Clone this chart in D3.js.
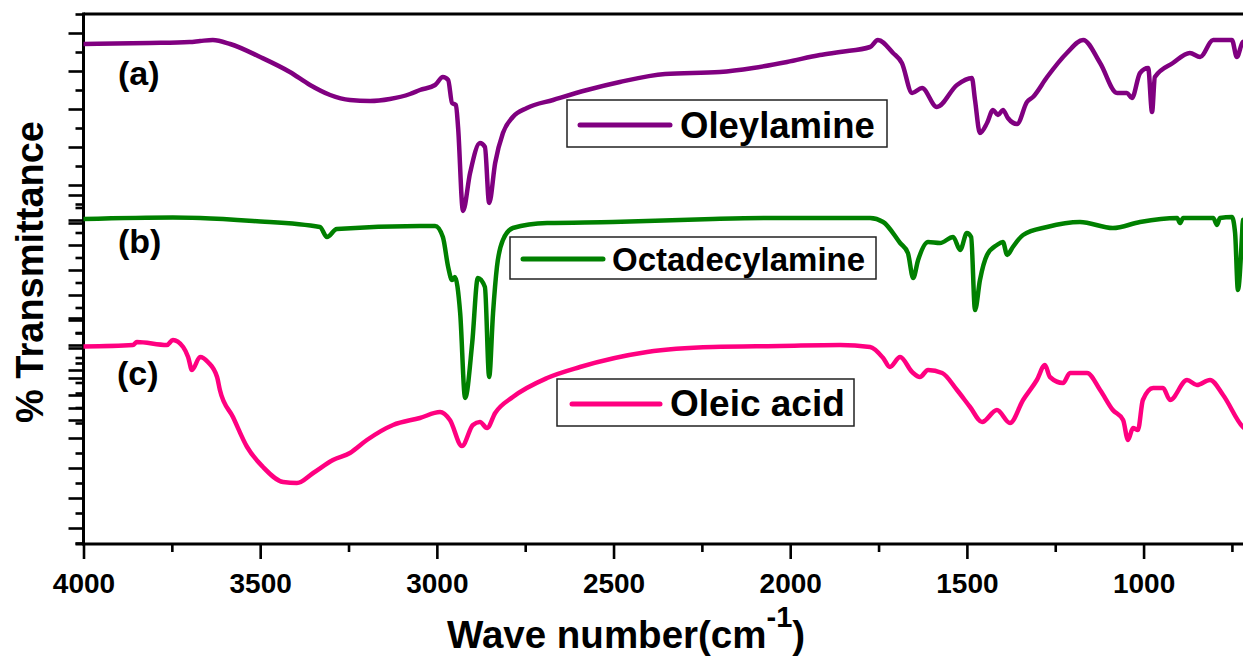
<!DOCTYPE html>
<html>
<head>
<meta charset="utf-8">
<script src="https://cdn.jsdelivr.net/npm/d3@7"></script>
<style>
  html, body { margin: 0; padding: 0; background: #fff; }
  svg { display: block; }
  text { font-family: "Liberation Sans", Arial, sans-serif; font-weight: bold; fill: #000; }
</style>
</head>
<body>
<svg id="chart" width="1243" height="657"></svg>
<script>
// FTIR spectra, [wavenumber (cm-1), offset % transmittance]
const oleylamine = [
  [4000,100],[3812,100.2],[3700,100.4],[3670,100.6],[3634,100.8],[3585,100],[3500,97.4],
  [3416,94.4],[3359,91.8],[3302,89.8],[3246,88.8],[3189,88.6],[3133,89],[3076,90],
  [3048,90.8],[3005,91.8],[2983,93.4],[2968,92.8],[2957,88.2],[2946,87.8],[2940,83.4],
  [2926,66.6],[2906,74.2],[2878,80.2],[2864,79.4],[2852,68.2],[2835,76.2],[2813,82.2],
  [2785,85.4],[2745,87.2],[2671,88.8],[2575,90.8],[2482,92.4],[2354,94],[2199,94.4],
  [2105,95.2],[2009,96.4],[1916,97.8],[1859,98.4],[1774,99.4],[1752,100.8],[1709,98.2],
  [1684,96.2],[1655,90.2],[1627,91.2],[1585,87.4],[1528,91.8],[1486,93.2],[1477,88.8],
  [1463,82.2],[1443,84.2],[1426,86.8],[1412,85.8],[1398,86.8],[1384,85.2],[1358,84],
  [1330,88.4],[1313,89.4],[1273,93.4],[1217,98.2],[1171,100.8],[1123,96.2],[1075,90.2],
  [1047,90.2],[1033,89.2],[1010,94.2],[987,95.2],[976,86.4],[968,93.4],[917,96.2],
  [869,98.2],[840,97.4],[803,100.8],[750,100.8],[736,97.4],[719,100.4],[700,100.8]
];
const octadecylamine = [
  [4000,65],[3747,65.3],[3670,65.2],[3520,64.6],[3331,63.4],[3311,61.4],[3283,63],
  [3048,63.6],[3005,63.6],[2983,61.4],[2968,55.4],[2957,52.8],[2949,53.4],[2934,46.2],
  [2920,29.2],[2900,40.2],[2884,53.2],[2864,51.4],[2852,33.4],[2841,46.2],[2830,55.4],
  [2813,60.8],[2785,63.2],[2688,64.2],[2502,64.4],[2219,65],[2029,65.2],[1859,65.2],
  [1774,65.2],[1737,64.4],[1689,60.2],[1667,58.2],[1652,53.2],[1638,56.8],[1610,60.4],
  [1576,60.2],[1539,61.4],[1519,58.8],[1500,62.2],[1488,61.4],[1477,46.8],[1463,52.8],
  [1443,57.8],[1415,59.8],[1398,60.4],[1386,57.8],[1370,59.4],[1341,61.8],[1273,63.4],
  [1180,64.4],[1087,63.2],[1010,64.4],[905,65.2],[897,64.2],[888,65.2],[803,65.2],
  [792,63.8],[784,65.2],[750,65.4],[741,62.2],[733,50.8],[721,62.2],[719,64.8],[700,65.2]
];
const oleicAcid = [
  [4000,39.5],[3860,39.8],[3849,40.4],[3764,39.8],[3747,40.8],[3718,39.4],[3704,37.4],
  [3693,34.8],[3670,37.4],[3648,36.4],[3622,33.4],[3614,30.8],[3577,25.4],[3537,19.4],
  [3492,15.4],[3435,12.4],[3396,12.2],[3350,14.2],[3294,16.8],[3246,18.2],[3198,20.8],
  [3124,23.8],[3048,25.2],[2991,26.4],[2963,24.8],[2929,19.6],[2898,23.8],[2878,24.4],
  [2858,23.2],[2835,26.2],[2785,29.4],[2688,33.2],[2595,35.4],[2405,38.4],[2219,39.4],
  [2029,39.6],[1859,39.8],[1774,39.4],[1737,37.2],[1718,35.4],[1689,37.4],[1655,34.4],
  [1633,33.4],[1610,34.8],[1570,34.2],[1528,30.8],[1491,27.4],[1457,24.4],[1415,26.8],
  [1378,24.2],[1341,28.8],[1302,32.8],[1279,35.8],[1265,33.4],[1228,32.2],[1208,34.2],
  [1160,34.2],[1123,30.8],[1087,26.8],[1058,24.8],[1044,20.8],[1030,23.2],[1016,22.8],
  [1002,28.8],[973,31.2],[945,31.2],[925,28.8],[877,32.8],[849,31.8],[812,32.8],
  [775,29.8],[719,23.4],[700,22.4]
];

const seriesNames  = ["Oleylamine", "Octadecylamine", "Oleic acid"];
const seriesColors = ["#800080", "#008000", "#ff0080"];
const seriesTags   = ["(a)", "(b)", "(c)"];
const seriesData   = [oleylamine, octadecylamine, oleicAcid];

const xMajorTicks = [4000, 3500, 3000, 2500, 2000, 1500, 1000];
const xMinorTicks = [3750, 3250, 2750, 2250, 1750, 1250, 750];

// Stacked panel axes (each panel keeps its own y ticks on the shared left spine)
const panelDomains = [[0, 11], [0, 18], [0, 15]];
const panelMajorParity = [0, 0, 1];

const svg = d3.select("#chart");
const W = 1243, H = 657;
const padLeft = 83.5, plotTop = 14, plotBottom = 544;

const x = d3.scaleLinear().domain([4000, 700]).range([padLeft, padLeft + 3300 / 2.83]);
const y = d3.scaleLinear().domain([0, 106]).range([plotBottom, plotTop]);

// panel pixel extents for the stacked y axes
const panelRanges = [[223, 14], [420, 195], [543, 318]];

svg.append("rect").attr("width", W).attr("height", H).attr("fill", "#fff");

// y ticks of the three stacked panels
panelDomains.forEach((dom, i) => {
  const s = d3.scaleLinear().domain(dom).range(panelRanges[i]);
  const vals = d3.range(dom[0], dom[1] + 1);
  const major = vals.filter(v => v % 2 === panelMajorParity[i]);
  const minor = vals.filter(v => v % 2 !== panelMajorParity[i]);
  const gMaj = svg.append("g").attr("transform", `translate(${padLeft},0)`)
    .call(d3.axisLeft(s).tickValues(major).tickSize(15).tickSizeOuter(0).tickFormat(""));
  const gMin = svg.append("g").attr("transform", `translate(${padLeft},0)`)
    .call(d3.axisLeft(s).tickValues(minor).tickSize(8).tickSizeOuter(0).tickFormat(""));
  [gMaj, gMin].forEach(g => {
    g.select(".domain").remove();
    g.selectAll("line").attr("stroke", "#000").attr("stroke-width", 2.6);
  });
});

// x axis
const gx = svg.append("g").attr("transform", `translate(0,${plotBottom})`)
  .call(d3.axisBottom(x).tickValues(xMajorTicks).tickSize(15).tickSizeOuter(0).tickPadding(14).tickFormat(d3.format("d")));
gx.select(".domain").remove();
gx.selectAll("line").attr("stroke", "#000").attr("stroke-width", 2.6);
gx.selectAll("text").style("font-size", "28px").style("font-family", "'Liberation Sans', Arial, sans-serif").style("font-weight", "bold");
const gxm = svg.append("g").attr("transform", `translate(0,${plotBottom})`)
  .call(d3.axisBottom(x).tickValues(xMinorTicks).tickSize(8).tickSizeOuter(0).tickFormat(""));
gxm.select(".domain").remove();
gxm.selectAll("line").attr("stroke", "#000").attr("stroke-width", 2.6);

// frame: left spine, bottom axis, top edge
svg.append("line").attr("x1", padLeft).attr("x2", padLeft).attr("y1", plotTop - 1.5).attr("y2", plotBottom + 1.5)
  .attr("stroke", "#000").attr("stroke-width", 3);
svg.append("line").attr("x1", padLeft - 8).attr("x2", W).attr("y1", plotBottom).attr("y2", plotBottom)
  .attr("stroke", "#000").attr("stroke-width", 3);
svg.append("line").attr("x1", padLeft).attr("x2", W).attr("y1", plotTop).attr("y2", plotTop)
  .attr("stroke", "#000").attr("stroke-width", 3);

// spectra
const line = d3.line().x(d => x(d[0])).y(d => y(d[1])).curve(d3.curveMonotoneX);
svg.append("clipPath").attr("id", "plotClip")
  .append("rect").attr("x", padLeft).attr("y", plotTop).attr("width", W - padLeft).attr("height", plotBottom - plotTop);
seriesData.forEach((data, i) => {
  svg.append("path").datum(data)
    .attr("clip-path", "url(#plotClip)")
    .attr("fill", "none")
    .attr("stroke", seriesColors[i])
    .attr("stroke-width", 4.5)
    .attr("stroke-linejoin", "round")
    .attr("stroke-linecap", "round")
    .attr("d", line);
});

// trace tags
const tagPos = [[118, 85], [118, 253], [117, 385]];
seriesTags.forEach((t, i) => {
  svg.append("text").attr("x", tagPos[i][0]).attr("y", tagPos[i][1])
    .style("font-size", "34px").text(t);
});

// legends, one box per trace
const legendBoxes = [
  { x: 567, y: 100, w: 320, h: 47, lx1: 580, lx2: 670, ly: 125, tx: 680, ty: 138, fs: 36.5 },
  { x: 510, y: 237, w: 366, h: 42, lx1: 523, lx2: 603, ly: 259, tx: 612, ty: 271, fs: 33 },
  { x: 557, y: 379, w: 297, h: 47, lx1: 572, lx2: 660, ly: 404, tx: 670, ty: 416, fs: 37 }
];
legendBoxes.forEach((b, i) => {
  const g = svg.append("g");
  g.append("rect").attr("x", b.x).attr("y", b.y).attr("width", b.w).attr("height", b.h)
    .attr("fill", "#fff").attr("stroke", "#222").attr("stroke-width", 1.5);
  g.append("line").attr("x1", b.lx1).attr("x2", b.lx2).attr("y1", b.ly).attr("y2", b.ly)
    .attr("stroke", seriesColors[i]).attr("stroke-width", 5).attr("stroke-linecap", "round");
  g.append("text").attr("x", b.tx).attr("y", b.ty).style("font-size", b.fs + "px").text(seriesNames[i]);
});

// axis titles
const xt = svg.append("text").attr("x", 447).attr("y", 648).style("font-size", "38.5px");
xt.append("tspan").text("Wave number(cm");
xt.append("tspan").attr("dy", -21).style("font-size", "29px").text("-1");
xt.append("tspan").attr("dy", 21).text(")");

svg.append("text")
  .attr("transform", "translate(43,272) rotate(-90)")
  .attr("text-anchor", "middle")
  .style("font-size", "38px")
  .text("% Transmittance");
</script>
</body>
</html>
